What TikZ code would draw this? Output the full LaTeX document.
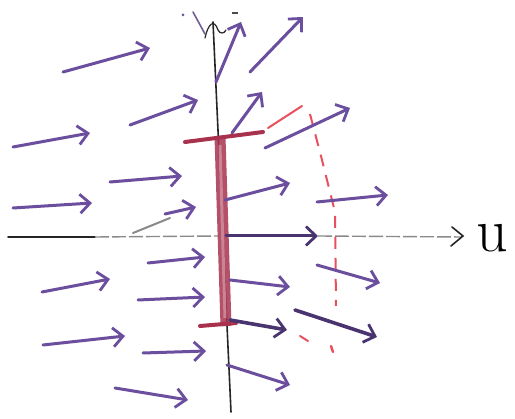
\documentclass[tikz,border=0pt]{standalone}
\usetikzlibrary{arrows.meta}
\definecolor{vpurple}{HTML}{6B4E9E}
\definecolor{vdark}{HTML}{4A3470}
\definecolor{segred}{HTML}{A8324E}
\definecolor{dashred}{HTML}{E8505E}
\definecolor{axgrey}{HTML}{8A8A8A}
\tikzset{
  vec/.style={draw=vpurple, line width=3pt, line cap=round,
    -{Straight Barb[length=10pt,width=19pt,line width=2.8pt]}},
  vecthick/.style={vec, draw=vdark, line width=3.6pt},
  axis/.style={draw=black!85, line width=1.6pt, line cap=round},
  faint/.style={draw=axgrey, line width=1.4pt, dash pattern=on 14pt off 3pt}
}
\begin{document}
\begin{tikzpicture}[x=1pt,y=-1pt]
\useasboundingbox (0,0) rectangle (515,419);
\fill[white] (0,0) rectangle (515,419);
% horizontal axis
\coordinate (hl) at (8,237);
\coordinate (hm) at (95,237);
\coordinate (hr) at (462,237);
\draw[axis] (hl) -- (hm);
\draw[faint] (hm) -- (218,236);
\draw[faint] (318,236) -- (hr);
\draw[axis] (452,227) -- (463,236) -- (451,246);
\node[font=\fontsize{62}{62}\selectfont, anchor=center] (ulab) at (492,238) {u};
% vertical axis
\coordinate (vb) at (231,412);
\coordinate (vt) at (213,22);
\draw[axis] (vb) -- (vt);
\draw[axis, line width=1.2pt] (205,38) .. controls (208,24) and (214,18) .. (218,30) .. controls (220,34) and (224,34) .. (226,30);
\draw[vpurple!70!gray, line width=1.6pt, line cap=round] (193,12) -- (205,34);
\fill[vpurple] (183,15) circle (1.5pt);
\draw[black!70, line width=1.2pt] (232,13) -- (238,13);
% red segment
\draw[segred, line width=11pt, opacity=0.85] (220,137) -- (226,326);
\draw[segred!60!white, line width=3pt] (220,145) -- (225,318);
\draw[segred, line width=4pt, line cap=round] (185,142) -- (263,132);
\draw[segred, line width=4pt, line cap=round] (200,326) -- (236,323);
\draw[dashred, line width=2pt, line cap=round] (268,128) -- (302,106);
\draw[dashred, line width=2pt, dash pattern=on 12pt off 9pt] (310,114) -- (322,160) -- (335,212) -- (336,306);
\draw[dashred, line width=2pt, line cap=round] (300,336) -- (308,341);
\draw[dashred, line width=2.4pt, line cap=round] (331,346) -- (333,352);
% vectors left
\draw[vec] (63,72) -- (150,48);
\draw[vec] (130,125) -- (198,100);
\draw[vec] (13,147) -- (90,133);
\draw[vec] (110,182) -- (182,176);
\draw[vec] (13,208) -- (92,203);
\draw[draw=axgrey, line width=2pt, line cap=round] (133,233) -- (170,218);
\draw[vec] (165,214) -- (196,207);
\draw[vec] (148,263) -- (205,257);
\draw[vec] (42,292) -- (110,279);
\draw[vec] (138,300) -- (205,297);
\draw[vec] (43,345) -- (125,336);
\draw[vec] (143,353) -- (206,351);
\draw[vec] (115,388) -- (188,400);
% vectors right / on axis
\draw[vec] (216,82) -- (241,22);
\draw[vec] (250,72) -- (303,17);
\draw[vec] (232,133) -- (262,92);
\draw[vec] (265,148) -- (350,108);
\draw[vec] (225,200) -- (290,183);
\draw[vec] (317,202) -- (388,195);
\draw[vec, draw=vdark] (226,236) -- (318,236);
\draw[vec] (230,280) -- (290,287);
\draw[vecthick] (230,320) -- (287,330);
\draw[vec] (317,265) -- (380,283);
\draw[vecthick] (295,310) -- (377,337);
\draw[vec] (227,365) -- (290,385);
\end{tikzpicture}
\end{document}
